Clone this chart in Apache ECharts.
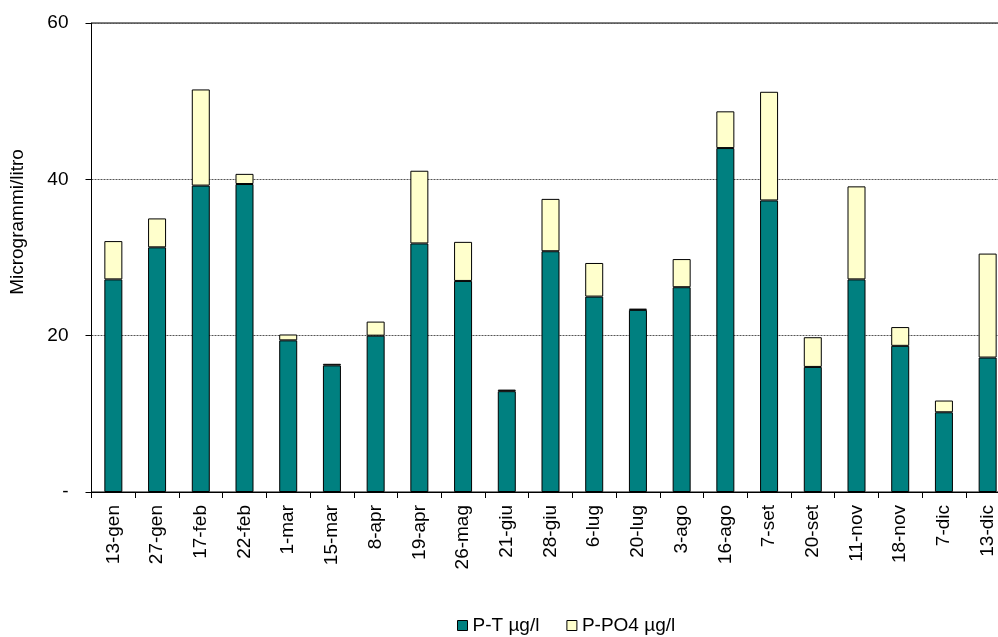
<!DOCTYPE html>
<html>
<head>
<meta charset="utf-8">
<script src="https://cdn.jsdelivr.net/npm/echarts@6/dist/echarts.min.js"></script>
<style>
html,body{margin:0;padding:0;background:#fff;}
#c{width:998px;height:637px;}
</style>
</head>
<body>
<div id="c"></div>
<script>
var categories = ['13-gen','27-gen','17-feb','22-feb','1-mar','15-mar','8-apr','19-apr','26-mag','21-giu','28-giu','6-lug','20-lug','3-ago','16-ago','7-set','20-set','11-nov','18-nov','7-dic','13-dic'];
var pT = [27.2,31.3,39.2,39.4,19.4,16.2,20.0,31.8,27.0,12.9,30.8,25.0,23.3,26.2,44.0,37.3,16.0,27.2,18.7,10.2,17.2];
var pPO4 = [4.9,3.7,12.3,1.3,0.75,0.2,1.8,9.3,5.0,0.2,6.7,4.3,0.15,3.6,4.7,13.9,3.8,11.9,2.4,1.5,13.3];
var yTicks = [0,20,40,60];

var chart = echarts.init(document.getElementById('c'));
var font = 'Liberation Sans, Arial, sans-serif';
var fs = 19;
chart.setOption({
  animation:false,
  backgroundColor:'#fff',
  textStyle:{fontFamily:font},
  grid:{left:91.5,width:918,top:23,height:469,containLabel:false,outerBoundsMode:'none',show:true,borderColor:'#000',borderWidth:1},
  graphic:[{
    type:'text',x:18,y:222,rotation:Math.PI/2,
    style:{text:'Microgrammi/litro',fontSize:fs,fontFamily:font,fill:'#000',align:'center',verticalAlign:'middle'}
  }],
  legend:{
    top:611,left:452,itemWidth:10,itemHeight:10,itemGap:27,
    icon:'rect',
    textStyle:{fontFamily:font,fontSize:fs,color:'#000'},
    data:[{name:'P-T µg/l',itemStyle:{borderColor:'#000',borderWidth:1}},{name:'P-PO4 µg/l',itemStyle:{borderColor:'#000',borderWidth:1}}]
  },
  xAxis:{
    type:'category',data:categories,boundaryGap:true,
    axisLine:{lineStyle:{color:'#000',width:1}},
    axisTick:{show:true,alignWithLabel:false,length:6,lineStyle:{color:'#000'}},
    axisLabel:{rotate:90,interval:0,margin:13,fontSize:fs,color:'#000',fontFamily:font}
  },
  yAxis:{
    type:'value',min:0,max:60,interval:20,
    axisLine:{show:true,lineStyle:{color:'#000'}},
    axisTick:{show:true,length:6,lineStyle:{color:'#000'}},
    axisLabel:{fontSize:fs,color:'#000',margin:23,fontFamily:font,formatter:function(v){return v===0?'-':String(v);}},
    splitLine:{show:true,lineStyle:{color:'#555',type:[2,1],width:1}}
  },
  series:[
    {name:'P-T µg/l',type:'bar',stack:'p',data:pT,barWidth:18,itemStyle:{color:'#008080',borderColor:'#000',borderWidth:1}},
    {name:'P-PO4 µg/l',type:'bar',stack:'p',data:pPO4,barWidth:18,itemStyle:{color:'#FFFFCC',borderColor:'#000',borderWidth:1}}
  ]
});
</script>
</body>
</html>
